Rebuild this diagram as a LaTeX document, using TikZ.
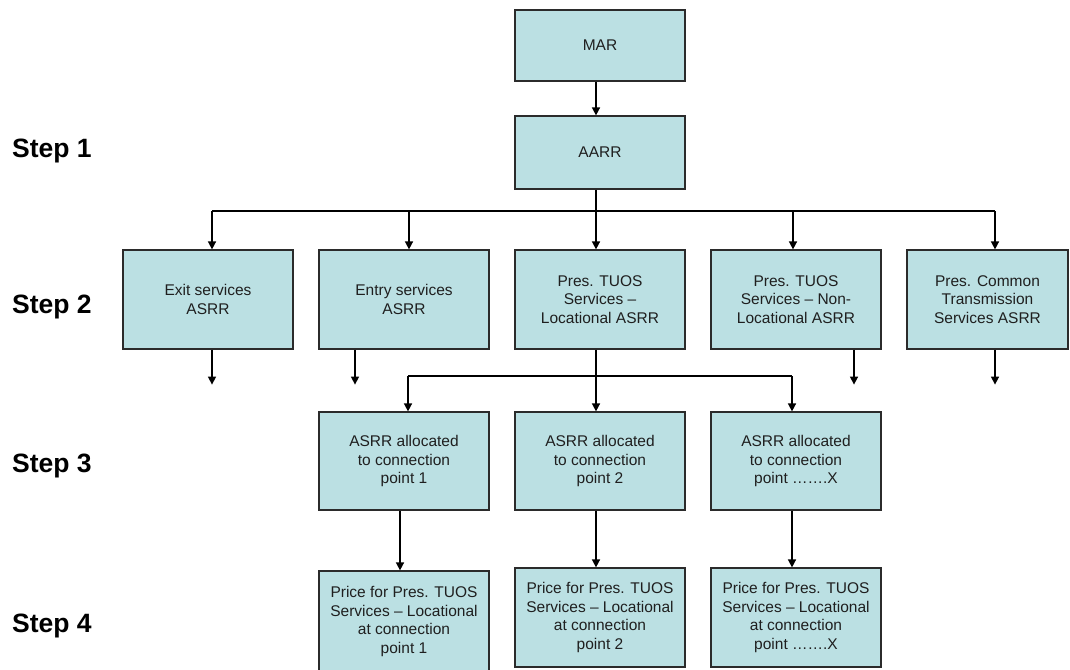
\documentclass[tikz,border=0pt]{standalone}
\usepackage{fontspec}
\setmainfont{Liberation Sans}
\usetikzlibrary{arrows.meta}
\definecolor{boxfill}{HTML}{BBE0E3}
\definecolor{boxline}{HTML}{2B2B2B}
\begin{document}
\begin{tikzpicture}[x=1pt,y=-1pt,
  box/.style={draw=boxline, fill=boxfill, line width=1.2pt, inner sep=0pt, align=center,
    font=\fontsize{15.5}{18.5}\selectfont, text=black!88},
  arr/.style={line width=1.5pt, -{Triangle[width=8pt,length=8pt]}},
  ln/.style={line width=1.5pt},
  steplabel/.style={anchor=base west, inner sep=0pt, font=\fontsize{26.5}{30}\selectfont\bfseries}]
\useasboundingbox (0,0) rectangle (1070,669);

% step labels
\node[steplabel] (s1) at (12,157) {Step 1};
\node[steplabel] (s2) at (12,313) {Step 2};
\node[steplabel] (s3) at (12,472) {Step 3};
\node[steplabel] (s4) at (12,632) {Step 4};

% boxes
\node[box, minimum width=170, minimum height=71] (mar) at (600,45.5) {MAR};
\node[box, minimum width=170, minimum height=73] (aarr) at (600,152.5) {AARR};

\node[box, minimum width=170, minimum height=99] (exit) at (208,299.5) {Exit services\\ASRR};
\node[box, minimum width=170, minimum height=99] (entry) at (404,299.5) {Entry services\\ASRR};
\node[box, minimum width=170, minimum height=99] (loc) at (600,299.5) {Pres. TUOS\\Services –\\Locational ASRR};
\node[box, minimum width=170, minimum height=99] (nonloc) at (796,299.5) {Pres. TUOS\\Services – Non-\\Locational ASRR};
\node[box, minimum width=161, minimum height=99] (common) at (987.5,299.5) {Pres. Common\\Transmission\\Services ASRR};

\node[box, minimum width=170, minimum height=98] (a1) at (404,461) {ASRR allocated\\to connection\\point 1};
\node[box, minimum width=170, minimum height=98] (a2) at (600,461) {ASRR allocated\\to connection\\point 2};
\node[box, minimum width=170, minimum height=98] (a3) at (796,461) {ASRR allocated\\to connection\\point …….X};

\node[box, minimum width=170, minimum height=101] (p1) at (404,621.5) {Price for Pres. TUOS\\Services – Locational\\at connection\\point 1};
\node[box, minimum width=170, minimum height=99] (p2) at (600,617.5) {Price for Pres. TUOS\\Services – Locational\\at connection\\point 2};
\node[box, minimum width=170, minimum height=99] (p3) at (796,617.5) {Price for Pres. TUOS\\Services – Locational\\at connection\\point …….X};

% MAR -> AARR
\draw[arr] ([xshift=-4pt]mar.south) -- ([xshift=-4pt]aarr.south |- aarr.north);

% AARR distribution
\coordinate (hub) at (596,211);
\coordinate (t1) at ([xshift=4pt]exit.north);
\coordinate (t2) at ([xshift=5pt]entry.north);
\coordinate (t3) at ([xshift=-4pt]loc.north);
\coordinate (t4) at ([xshift=-3pt]nonloc.north);
\coordinate (t5) at ([xshift=7.5pt]common.north);
\draw[ln] ([xshift=-4pt]aarr.south) -- (hub);
\draw[ln] (t1 |- hub) -- (t5 |- hub);
\foreach \t in {t1,t2,t3,t4,t5}
  \draw[arr] (\t |- hub) -- (\t);

% step 2 outgoing arrows
\coordinate (b1) at ([xshift=4pt]exit.south);
\coordinate (b2) at ([xshift=-49pt]entry.south);
\coordinate (b4) at ([xshift=58pt]nonloc.south);
\coordinate (b5) at ([xshift=7.5pt]common.south);
\foreach \b in {b1,b2,b4,b5}{
  \path (\b) ++(0,35) coordinate (\b e);
  \draw[arr] (\b) -- (\b e);
}

% Locational distribution
\coordinate (hub2) at (596,376);
\coordinate (u1) at ([xshift=4pt]a1.north);
\coordinate (u2) at ([xshift=-4pt]a2.north);
\coordinate (u3) at ([xshift=-4pt]a3.north);
\draw[ln] ([xshift=-4pt]loc.south) -- (hub2);
\draw[ln] (u1 |- hub2) -- (u3 |- hub2);
\foreach \u in {u1,u2,u3}
  \draw[arr] (\u |- hub2) -- (\u);

% step 3 -> step 4
\draw[arr] ([xshift=-4pt]a1.south) -- ([xshift=-4pt]a1.south |- p1.north);
\draw[arr] ([xshift=-4pt]a2.south) -- ([xshift=-4pt]a2.south |- p2.north);
\draw[arr] ([xshift=-4pt]a3.south) -- ([xshift=-4pt]a3.south |- p3.north);
\end{tikzpicture}
\end{document}
